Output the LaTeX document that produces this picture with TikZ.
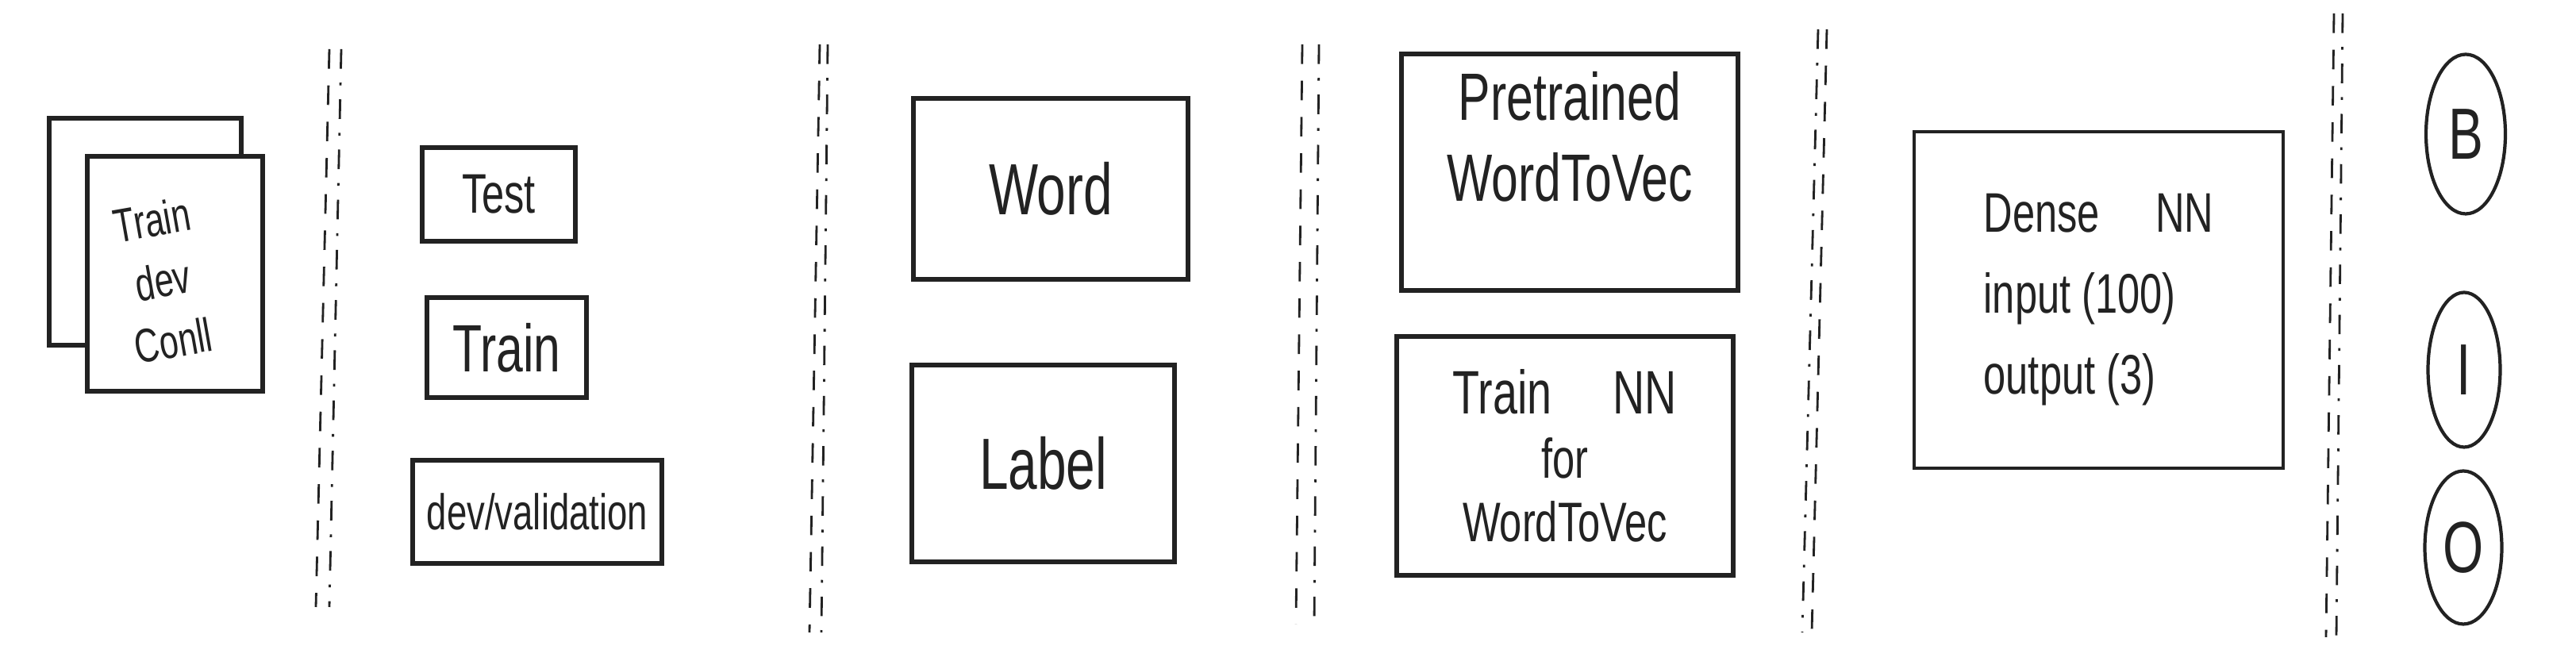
\documentclass[tikz,border=0pt]{standalone}
\usepackage{fontspec}
\setmainfont{Liberation Sans}[FakeStretch=0.72]
\usetikzlibrary{shapes.geometric,positioning}

\definecolor{ink}{HTML}{222222}
\newcommand*{\picw}{32.46}
\newcommand*{\pich}{8.38}

\begin{document}
\begin{tikzpicture}
[
	box/.style={draw=ink,line width=1.6pt,inner sep=0pt,align=center},
	thinbox/.style={draw=ink,line width=1.1pt,inner sep=0pt,align=left},
	tag/.style={ellipse,draw=ink,line width=1.2pt,inner sep=0pt},
	cut/.style={draw=ink,line width=0.8pt,dash pattern=on 7pt off 6pt},
	cutdot/.style={draw=ink,line width=0.8pt,dash pattern=on 7pt off 5pt on 1pt off 5pt},
	every node/.style={text=ink}
]

	% frame
	\useasboundingbox (0,0) rectangle (\picw,\pich);

	% data files
	\node[box,fill=white,minimum width=2.42cm,minimum height=2.86cm] (conllback) at (1.83,5.46) {};
	\node[box,fill=white,minimum width=2.21cm,minimum height=2.96cm] (conll) at (2.205,4.93) {};
	\node[rotate=10,align=center,font=\fontsize{17}{22}\selectfont] (conlltext) at (2.05,4.85) {Train\\dev\\Conll};

	% dividers
	\draw[cut] (4.15,7.76) -- (3.98,0.73);
	\draw[cutdot] (4.30,7.76) -- (4.15,0.73);
	\draw[cut] (10.33,7.82) -- (10.20,0.41);
	\draw[cutdot] (10.43,7.82) -- (10.35,0.41);
	\draw[cut] (16.41,7.82) -- (16.33,0.51);
	\draw[cutdot] (16.62,7.82) -- (16.56,0.51);
	\draw[cutdot] (22.91,8.01) -- (22.71,0.41);
	\draw[cut] (23.02,8.01) -- (22.83,0.41);
	\draw[cut] (29.41,8.21) -- (29.31,0.35);
	\draw[cutdot] (29.52,8.21) -- (29.44,0.35);

	% split
	\node[box,minimum width=1.93cm,minimum height=1.18cm,font=\fontsize{20}{24}\selectfont] (test) at (6.285,5.93) {Test};
	\node[box,minimum width=2.01cm,minimum height=1.26cm,font=\fontsize{24}{28}\selectfont] (train) at (6.385,4.00) {Train};
	\node[box,minimum width=3.14cm,minimum height=1.30cm,font=\fontsize{18}{22}\selectfont] (devval) at (6.77,1.93) {dev/validation};

	% inputs
	\node[box,minimum width=3.46cm,minimum height=2.28cm,font=\fontsize{26}{30}\selectfont] (word) at (13.24,6.00) {Word};
	\node[box,minimum width=3.31cm,minimum height=2.48cm,font=\fontsize{26}{30}\selectfont] (label) at (13.145,2.54) {Label};

	% embeddings
	\node[box,minimum width=4.24cm,minimum height=2.98cm] (w2vpre) at (19.78,6.21) {};
	\node[below=0.13cm of w2vpre.north,align=center,font=\fontsize{24}{29}\selectfont] (w2vpretext) {Pretrained\\WordToVec};
	\node[box,minimum width=4.24cm,minimum height=3.01cm,font=\fontsize{22}{23}\selectfont] (w2vtrain) at (19.72,2.635) {Train\quad NN\\{\fontsize{20}{23}\selectfont for}\\{\fontsize{20}{23}\selectfont WordToVec}};

	% classifier
	\node[thinbox,minimum width=4.65cm,minimum height=4.24cm,font=\fontsize{20}{29}\selectfont] (dense) at (26.445,4.60) {Dense\quad NN\\input (100)\\output (3)};

	% tags
	\node[tag,minimum width=1.0cm,minimum height=2.01cm,font=\fontsize{26}{30}\selectfont] (tagb) at (31.07,6.69) {B};
	\node[tag,minimum width=0.91cm,minimum height=1.95cm,font=\fontsize{26}{30}\selectfont] (tagi) at (31.05,3.72) {I};
	\node[tag,minimum width=0.97cm,minimum height=1.93cm,font=\fontsize{26}{30}\selectfont] (tago) at (31.04,1.48) {O};

\end{tikzpicture}
\end{document}
